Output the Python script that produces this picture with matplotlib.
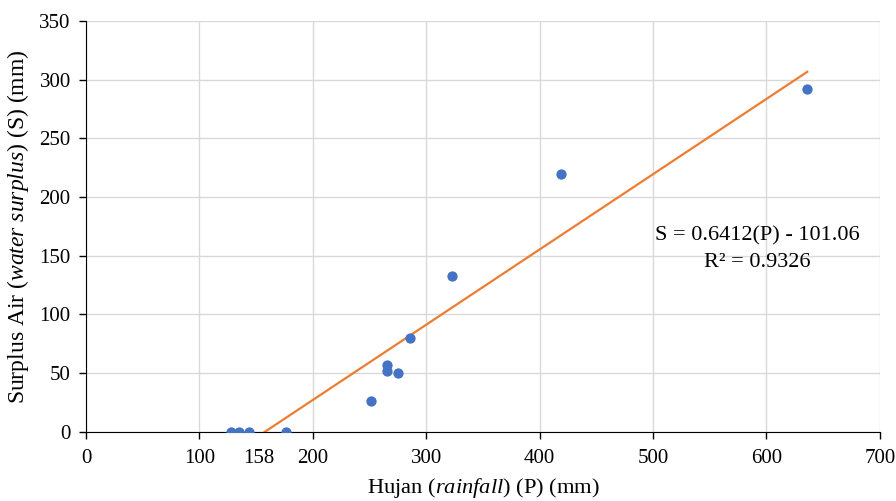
import matplotlib.pyplot as plt
import matplotlib.transforms as mtransforms
import numpy as np

plt.rcParams['font.family'] = ['Liberation Serif', 'DejaVu Serif']
plt.rcParams['mathtext.fontset'] = 'custom'
plt.rcParams['mathtext.rm'] = 'Liberation Serif'
plt.rcParams['mathtext.it'] = 'Liberation Serif:italic'

# data
hujan = [128, 135, 144, 176, 251, 265, 265, 275, 286, 323, 419, 636]
surplus = [0, 0, 0, 0, 26, 57, 52, 50, 80, 133, 220, 292]
slope = 0.6412
intercept = -101.06
x_ticks = [0, 100, 158, 200, 300, 400, 500, 600, 700]
y_ticks = [0, 50, 100, 150, 200, 250, 300, 350]

fig = plt.figure(figsize=(8.96, 5.01), dpi=100)
ax = fig.add_axes([0.096, 0.138, 0.886, 0.820])

ax.scatter(hujan, surplus, s=55, color='#4472C4', zorder=3, linewidths=0)

x0 = -intercept / slope
xl = np.array([x0, max(hujan)])
ax.plot(xl, slope * xl + intercept, color='#ED7D31', lw=1.6, zorder=2)

ax.set_xlim(0, 700)
ax.set_ylim(0, 350)
ax.set_xticks(x_ticks)
ax.set_yticks(y_ticks)
ax.tick_params(labelsize=15, length=5, width=1, direction='out')
ax.tick_params(axis='x', pad=7)
ax.tick_params(axis='y', pad=6)
ax.grid(True, color='#d9d9d9', lw=1)
# no gridline / tick mark at 158, label sits a little to the left
shift = mtransforms.ScaledTranslation(-6 / 100, 0, fig.dpi_scale_trans)
for gl, tk, t in zip(ax.get_xgridlines(), ax.xaxis.get_major_ticks(), x_ticks):
    if t == 158:
        gl.set_visible(False)
        tk.tick1line.set_visible(False)
        tk.label1.set_transform(tk.label1.get_transform() + shift)
ax.set_axisbelow(True)
for s in ['top', 'right']:
    ax.spines[s].set_visible(False)

ax.set_xlabel('Hujan ($\\mathit{rainfall}$) (P) (mm)', fontsize=16.2, labelpad=6)
ax.set_ylabel('Surplus Air ($\\mathit{water\\ surplus}$) (S) (mm)', fontsize=17, labelpad=6)

ax.text(592, 167, 'S = 0.6412(P) - 101.06', fontsize=16, ha='center', va='center')
ax.text(592, 144, 'R² = 0.9326', fontsize=16, ha='center', va='center')

plt.savefig('out.png', dpi=100)
